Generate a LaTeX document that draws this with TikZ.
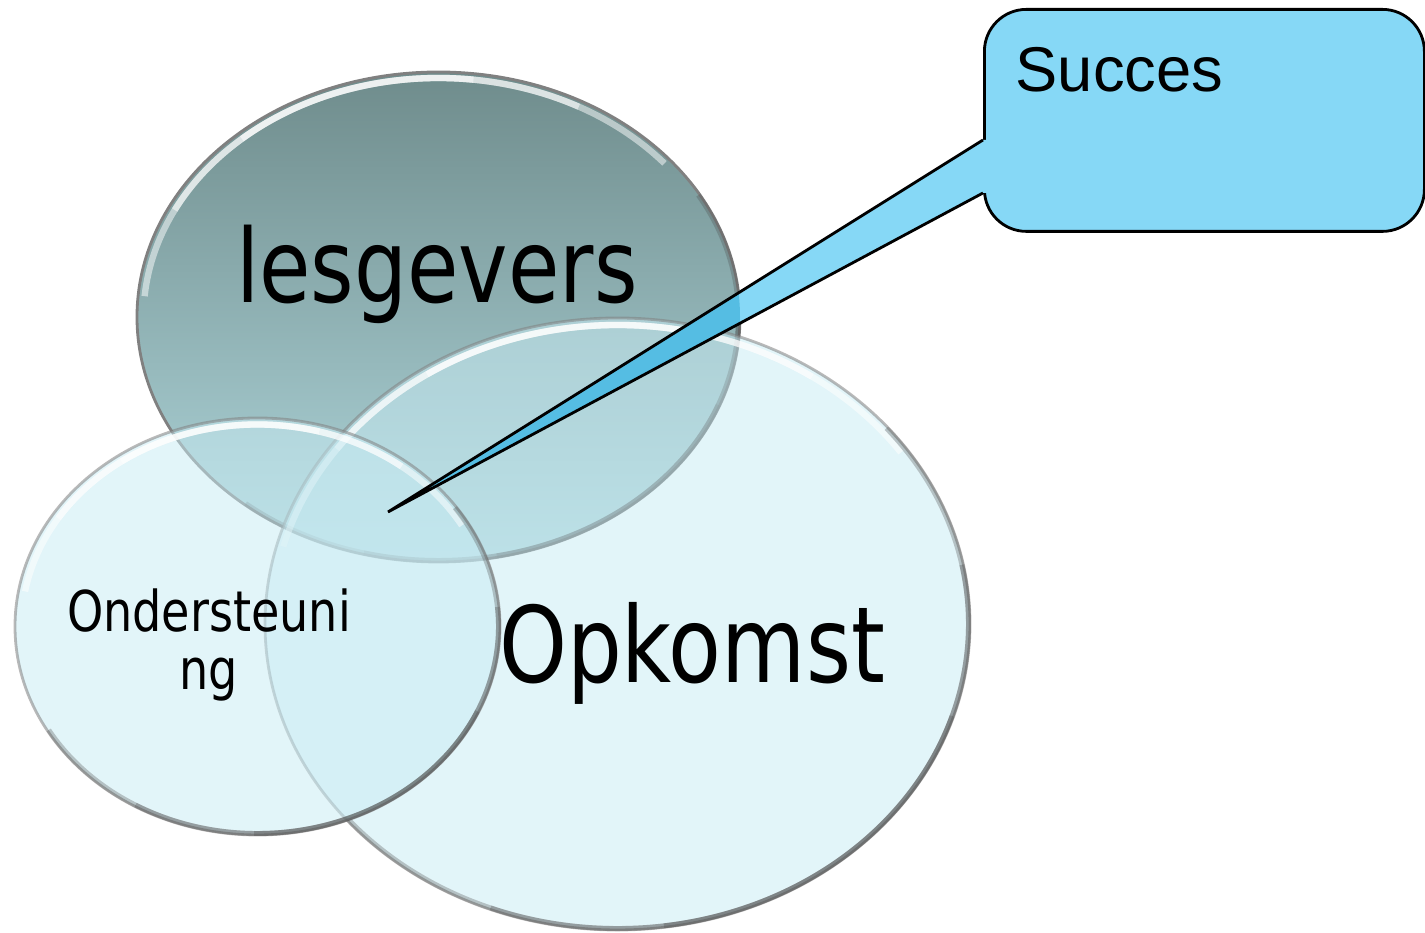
\documentclass[tikz,border=0pt]{standalone}
\usepackage{fontspec}
\newfontfamily\tah[FakeStretch=0.82]{DejaVu Sans}
\newfontfamily\ari{Liberation Sans}
\usetikzlibrary{calc}
\definecolor{lesTop}{HTML}{6F8C8C}
\definecolor{lesBot}{HTML}{B0D7DC}
\definecolor{glassC}{HTML}{C8EBF3}
\definecolor{glassEdge}{HTML}{A9CDD4}
\definecolor{calloutC}{HTML}{86D8F6}
\definecolor{calloutDark}{HTML}{55BDE3}
\pgfdeclareradialshading{glassshade}{\pgfpoint{0bp}{0bp}}{color(0bp)=(glassC); color(42bp)=(glassC); color(48bp)=(glassEdge); color(50bp)=(glassEdge!70!black)}
\tikzset{
  lesfill/.style={top color=lesTop, bottom color=lesBot, shading angle=0},
  glassfill/.style={shading=glassshade, fill opacity=0.52},
  rim/.style={draw=black!50, line width=0.8pt},
  hilite/.style={draw=white, line width=1.8pt, opacity=0.5},
  shadowrim/.style={draw=black!70, line width=1.4pt, opacity=0.3},
  bigtext/.style={font=\tah\fontsize{29}{34}\selectfont, inner sep=0pt},
  midtext/.style={font=\tah\fontsize{16}{16.5}\selectfont, inner sep=0pt, align=center},
  callbox/.style={draw=black, line width=0.8pt, fill=calloutC, rounded corners=0.42cm, inner sep=0pt},
}
% faded arc: #1 centre, #2 x radius, #3 y radius, #4 start, #5 end, #6 style
\newcommand\myrimarc[6]{%
  \foreach \k in {0,1,2}{%
    \pgfmathsetmacro\mysa{#4+(#5-#4)*0.16*\k}%
    \pgfmathsetmacro\myea{#5-(#5-#4)*0.16*\k}%
    \draw[#6] ($(#1)+({#2*cos(\mysa)},{#3*sin(\mysa)})$) arc[start angle=\mysa, end angle=\myea, x radius=#2, y radius=#3];
  }}
\begin{document}
\begin{tikzpicture}
\useasboundingbox (0,0) rectangle (14.25,9.33);
\coordinate (lc) at (4.385,6.16);
\coordinate (oc) at (6.175,3.09);
\coordinate (uc) at (2.575,3.065);
% lesgevers ellipse
\shade[lesfill] (lc) ellipse [x radius=3.015, y radius=2.45];
\draw[rim] (lc) ellipse [x radius=3.015, y radius=2.45];
\myrimarc{lc}{2.95}{2.39}{40}{175}{hilite}
\myrimarc{lc}{3.0}{2.435}{-130}{30}{shadowrim}
% Opkomst ellipse
\path[glassfill] (oc) ellipse [x radius=3.525, y radius=3.06];
\draw[rim, draw opacity=0.55] (oc) ellipse [x radius=3.525, y radius=3.06];
\myrimarc{oc}{3.46}{2.99}{35}{165}{hilite}
\myrimarc{oc}{3.51}{3.045}{-140}{40}{shadowrim}
% Ondersteuning ellipse
\path[glassfill] (uc) ellipse [x radius=2.425, y radius=2.085];
\draw[rim, draw opacity=0.55] (uc) ellipse [x radius=2.425, y radius=2.085];
\myrimarc{uc}{2.36}{2.02}{30}{170}{hilite}
\myrimarc{uc}{2.41}{2.07}{-150}{35}{shadowrim}
% texts
\node[bigtext, anchor=base] (tles) at (4.37,6.30) {lesgevers};
\node[bigtext, anchor=base, font=\tah\fontsize{30}{34}\selectfont] (topk) at (6.92,2.50) {Opkomst};
\node[midtext, anchor=center] (tond) at (2.09,2.88) {Ondersteuni\\ng};
% callout
\node[callbox, minimum width=4.40cm, minimum height=2.22cm, anchor=north west] (succbox) at (9.83,9.25) {};
\coordinate (tip) at (3.88,4.21);
\coordinate (p1) at (9.83,7.93);
\coordinate (p2) at (9.83,7.40);
\fill[calloutC] (tip) -- (p1) -- ($(p1)+(0.1,0)$) -- ($(p2)+(0.1,0)$) -- (p2) -- cycle;
\begin{scope}
  \clip (lc) ellipse [x radius=3.015, y radius=2.45];
  \fill[calloutDark] (tip) -- (p1) -- (p2) -- cycle;
\end{scope}
\draw[line width=0.8pt, line join=miter, miter limit=25] (p1) -- (tip) -- (p2);
\node[font=\ari\fontsize{18}{21}\selectfont, anchor=base west, inner sep=0pt] (tsuc) at (10.15,8.41) {Succes};
\end{tikzpicture}
\end{document}
